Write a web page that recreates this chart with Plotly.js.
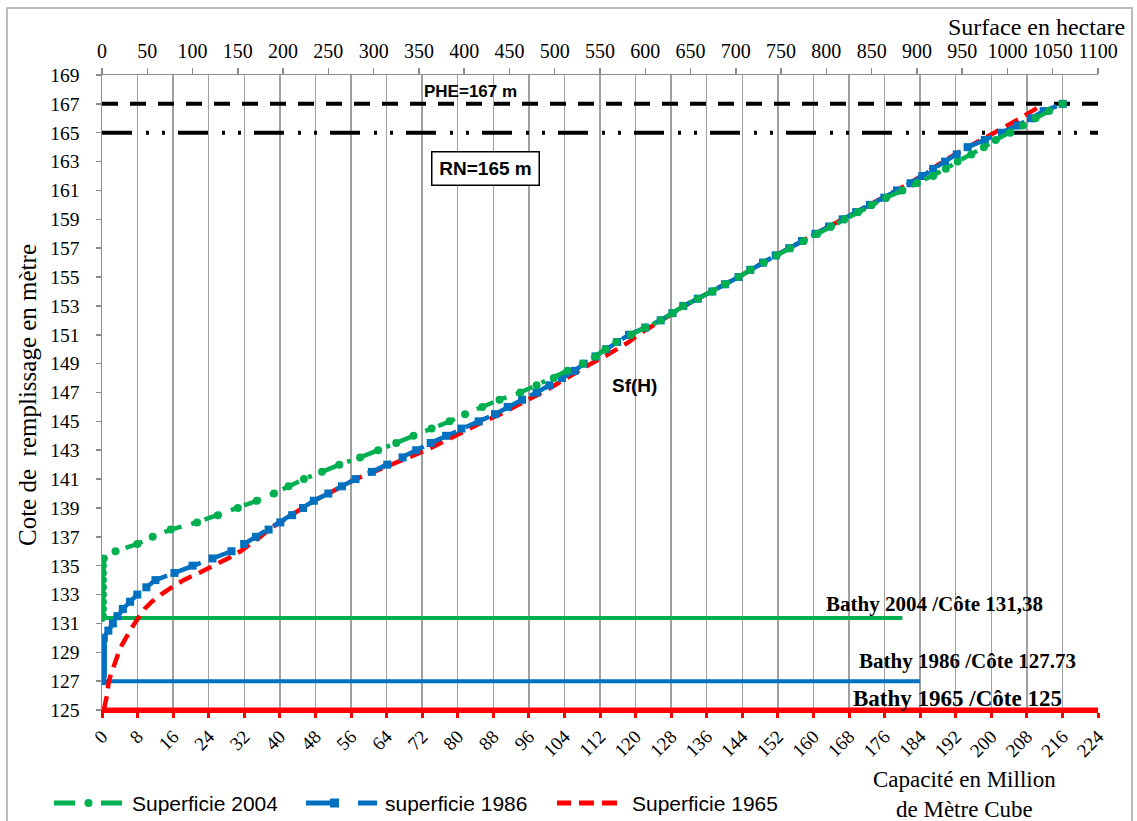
<!DOCTYPE html>
<html>
<head>
<meta charset="utf-8">
<script src="https://cdn.plot.ly/plotly-3.0.1.min.js"></script>
<style>
html,body{margin:0;padding:0;background:#fff;}
#chart{width:1137px;height:821px;}
</style>
</head>
<body>
<div id="chart"></div>
<script>
// ---------------- DATA ----------------
// Superficie 2004 : cote (m) and surface (ha)
const h2004 = [131.38,131.5,132,132.5,133,133.5,134,134.5,135,135.5,136,136.5,137,137.5,138,138.5,139,139.5,140,140.5,141,141.5,142,142.5,143,143.5,144,144.5,145,145.5,146,146.5,147,147.5,148,148.5,149,149.5,150,150.5,151,151.5,152,152.5,153,153.5,154,154.5,155,155.5,156,156.5,157,157.5,158,158.5,159,159.5,160,160.5,161,161.5,162,162.5,163,163.5,164,164.5,165,165.5,166,166.5,167];
const s2004 = [0,1,1,1,1,1,1,1,1,2,15,39,56,76,105,128,150,171,190,206,223,243,262,285,305,325,344,364,384,401,420,439,462,480,499,514,531,545,556,568,584,600,617,630,642,658,674,688,703,716,731,745,760,775,790,805,820,835,850,866,884,900,918,932,945,960,974,987,1003,1017,1031,1046,1061];

// Superficie 1986
const h1986 = [127,127.5,128,128.5,129,129.5,130,130.5,131,131.5,132,132.5,133,133.5,134,134.5,135,135.5,136,136.5,137,137.5,138,138.5,139,139.5,140,140.5,141,141.5,142,142.5,143,143.5,144,144.5,145,145.5,146,146.5,147,147.5,148,148.5,149,149.5,150,150.5,151,151.5,152,152.5,153,153.5,154,154.5,155,155.5,156,156.5,157,157.5,158,158.5,159,159.5,160,160.5,161,161.5,162,162.5,163,163.5,164,164.5,165,165.5,166,166.5,167];
const s1986 = [0,1,1,1,1,1,2,7,12,17,23,31,39,49,59,80,100,122,143,157,170,184,197,210,222,234,250,265,280,298,315,332,347,363,380,397,416,434,448,464,480,494,508,522,532,545,557,569,582,600,617,630,642,658,674,688,703,716,730,744,759,773,788,803,818,833,848,864,878,893,906,918,931,944,956,975,994,1011,1026,1040,1061];

// Superficie 1965
const h1965 = [125,125.5,126,126.5,127,127.5,128,128.5,129,129.5,130,130.5,131,131.5,132,132.5,133,133.5,134,134.5,135,135.5,136,136.5,137,137.5,138,138.5,139,139.5,140,140.5,141,141.5,142,142.5,143,143.5,144,144.5,145,145.5,146,146.5,147,147.5,148,148.5,149,149.5,150,150.5,151,151.5,152,152.5,153,153.5,154,154.5,155,155.5,156,156.5,157,157.5,158,158.5,159,159.5,160,160.5,161,161.5,162,162.5,163,163.5,164,164.5,165,165.5,166,166.5,167];
const s1965 = [2,4,5.5,6.5,7.5,10,12.5,15.5,18.5,22,26,31,36,41,47,55,65,77,90,107,124,139,153,165,175,184,197,210,222,234,250,265,280,300,320,340,358,374,390,404,422,440,456,471,486,500,513,527,540,555,568,582,592,604,618,631,643,658,674,688,703,716,730,744,759,773,788,803,818,833,848,864,879,892,905,916,929,942,957,972,987,1000,1014,1027,1040];

// Bathymetry lines (capacity axis extent, cote)
const bathyNames = ["Bathy 2004 /Côte 131,38","Bathy 1986 /Côte 127.73","Bathy 1965 /Côte 125"];
const bathyCote = [131.38, 127, 125];
const bathyCapEnd = [180, 184, 224];

// Reference levels
const refNames = ["PHE=167 m","RN=165 m"];
const refCote = [167, 165];
const capRange = [0, 224];

// Tick settings
const capTicks = [0,8,16,24,32,40,48,56,64,72,80,88,96,104,112,120,128,136,144,152,160,168,176,184,192,200,208,216,224];
const surfTicks = [0,50,100,150,200,250,300,350,400,450,500,550,600,650,700,750,800,850,900,950,1000,1050,1100];
const coteTicks = [125,127,129,131,133,135,137,139,141,143,145,147,149,151,153,155,157,159,161,163,165,167,169];

const legendNames = ["Superficie 2004","superficie 1986","Superficie 1965"];

// ---------------- LAYOUT HELPERS ----------------
const L=102, R=39, T=75, B=111;
const W=1137-L-R, H=821-T-B;
const px = x => (x-L)/W;
const py = y => 1-(y-T)/H;
const SERIF = "Liberation Serif, Times New Roman, serif";
const SANS = "Liberation Sans, Arial, sans-serif";
const GREEN = "#00b050", BLUE = "#0070c0", RED = "#ff0000";
const bathyColors = [GREEN, BLUE, RED];

const traces = [];
// Bathy horizontal lines
for (let i=0;i<3;i++){
  traces.push({x:[0,bathyCapEnd[i]], y:[bathyCote[i],bathyCote[i]], xaxis:'x', yaxis:'y', mode:'lines',
    line:{color:bathyColors[i], width: i===2?5:4}, name:bathyNames[i], showlegend:false, hoverinfo:'skip'});
}
// reference lines
traces.push({x:capRange, y:[refCote[0],refCote[0]], xaxis:'x', yaxis:'y', mode:'lines',
  line:{color:'#000', width:4, dash:'16px,12px'}, name:refNames[0], showlegend:false});
traces.push({x:capRange, y:[refCote[1],refCote[1]], xaxis:'x', yaxis:'y', mode:'lines',
  line:{color:'#000', width:4, dash:'30px,14px,3px,13px,3px,13px'}, name:refNames[1], showlegend:false});

// curves (surface axis, top)
traces.push({x:s1965, y:h1965, xaxis:'x2', yaxis:'y', mode:'lines', name:legendNames[2],
  line:{color:RED, width:4.5, dash:'14px,8px'}, showlegend:false});
traces.push({x:s1986, y:h1986, xaxis:'x2', yaxis:'y', mode:'lines+markers', name:legendNames[1],
  line:{color:BLUE, width:4.5, dash:'26px,10px'}, marker:{symbol:'square', size:8, color:BLUE}, showlegend:false});
traces.push({x:s2004, y:h2004, xaxis:'x2', yaxis:'y', mode:'lines+markers', name:legendNames[0],
  line:{color:GREEN, width:4.5, dash:'18px,10px,4px,10px'}, marker:{symbol:'circle', size:8, color:GREEN}, showlegend:false});

// ---------------- ANNOTATIONS ----------------
const ann = [];
function A(text, x, y, opts){ ann.push(Object.assign({text:text, xref:'paper', yref:'paper', x:px(x), y:py(y), showarrow:false,
  xanchor:'center', yanchor:'middle'}, opts)); }
A("<b>PHE=167 m</b>", 470, 91, {font:{family:SANS, size:17, color:'#000'}});
A("<b>RN=165 m</b>", 485, 168, {font:{family:SANS, size:19, color:'#000'}, bordercolor:'#000', borderwidth:1.5, borderpad:6, width:94, height:20, bgcolor:'#fff'});
A("<b>Sf(H)</b>", 634, 385, {font:{family:SANS, size:19, color:'#000'}});
A("<b>"+bathyNames[0]+"</b>", 934, 604, {font:{family:SERIF, size:21, color:'#000'}});
A("<b>"+bathyNames[1]+"</b>", 967, 661, {font:{family:SERIF, size:21, color:'#000'}});
A("<b>"+bathyNames[2]+"</b>", 957, 698, {font:{family:SERIF, size:23, color:'#000'}});
A("Surface en hectare", 1127, 27, {xanchor:'right', font:{family:SERIF, size:24, color:'#000'}});
A("Capacité en Million<br>de Mètre Cube", 964, 794, {font:{family:SERIF, size:23, color:'#000'}});
A("Cote de&nbsp;&nbsp;remplissage en mètre", 27, 395, {textangle:-90, font:{family:SERIF, size:25, color:'#000'}});
// legend texts
A(legendNames[0], 130, 803, {xanchor:'left', font:{family:SANS, size:21, color:'#000'}});
A(legendNames[1], 383, 803, {xanchor:'left', font:{family:SANS, size:21, color:'#000'}});
A(legendNames[2], 630, 803, {xanchor:'left', font:{family:SANS, size:21, color:'#000'}});

// ---------------- SHAPES ----------------
const shapes = [];
function seg(x0,x1,y,color,w,dash){ shapes.push({type:'line', xref:'paper', yref:'paper', x0:px(x0), x1:px(x1), y0:py(y), y1:py(y), line:{color:color,width:w,dash:dash||'solid'}}); }
// outer frame
shapes.push({type:'rect', xref:'paper', yref:'paper', x0:px(7), x1:px(1132), y0:py(8), y1:py(830), line:{color:'#a6a6a6', width:1.5}, layer:'below'});
// legend samples
seg(54,75,803,GREEN,5); seg(101,122,803,GREEN,5);
shapes.push({type:'circle', xref:'paper', yref:'paper', x0:px(84.5), x1:px(92.5), y0:py(799), y1:py(807), fillcolor:GREEN, line:{color:GREEN,width:0}});
seg(306,333,803,BLUE,5); seg(358,377,803,BLUE,5);
shapes.push({type:'rect', xref:'paper', yref:'paper', x0:px(330), x1:px(339), y0:py(798.5), y1:py(807.5), fillcolor:BLUE, line:{color:BLUE,width:0}});
seg(557,571,803,RED,5); seg(579,594,803,RED,5); seg(602,617,803,RED,5);

const layout = {
  width:1137, height:821,
  margin:{l:L, r:R, t:T, b:B, pad:0},
  paper_bgcolor:'#fff', plot_bgcolor:'#fff',
  showlegend:false,
  xaxis:{range:capRange, tickvals:capTicks, ticktext:capTicks.map(String), tickangle:-45,
    showgrid:true, gridcolor:'#a0a0a0', gridwidth:1.5, zeroline:false,
    showline:true, linecolor:RED, linewidth:3, ticks:'outside', ticklen:5, tickwidth:3, tickcolor:RED,
    tickfont:{family:SERIF, size:19, color:'#000'}},
  xaxis2:{range:[0,1100], tickvals:surfTicks, ticktext:surfTicks.map(String), overlaying:'x', side:'top',
    showgrid:false, zeroline:false, showline:true, linecolor:'#8c8c8c', linewidth:1.5,
    ticks:'outside', ticklen:6, tickwidth:1.5, tickcolor:'#8c8c8c', ticklabelstandoff:2,
    tickfont:{family:SERIF, size:20, color:'#000'}},
  yaxis:{range:[125,169], tickvals:coteTicks, ticktext:coteTicks.map(String), showgrid:false, zeroline:false,
    showline:true, linecolor:'#8c8c8c', linewidth:1.5, ticks:'outside', ticklen:5, tickwidth:1.5, tickcolor:'#8c8c8c',
    ticklabelstandoff:12, tickfont:{family:SERIF, size:19.5, color:'#000'}},
  annotations: ann,
  shapes: shapes
};

Plotly.newPlot('chart', traces, layout, {staticPlot:true, displayModeBar:false});
</script>
</body>
</html>
